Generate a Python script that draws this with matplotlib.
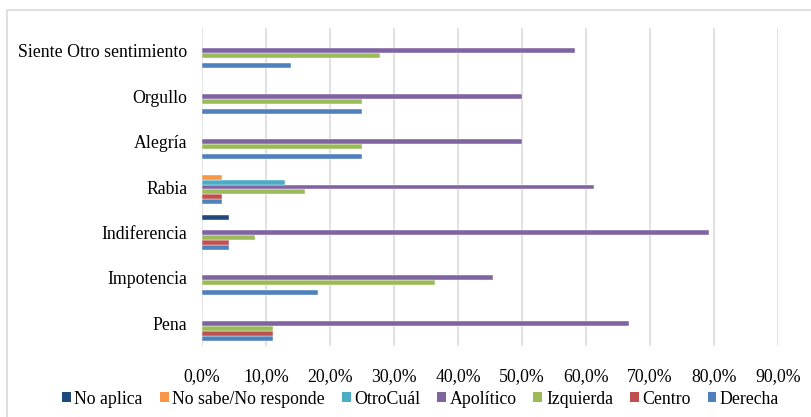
import matplotlib
matplotlib.use("Agg")
import matplotlib.pyplot as plt
from matplotlib.patches import Patch, Rectangle
from matplotlib.ticker import FuncFormatter, MultipleLocator

plt.rcParams['font.family'] = ['Liberation Serif', 'DejaVu Serif']

categories = ["Pena", "Impotencia", "Indiferencia", "Rabia", "Alegría", "Orgullo",
              "Siente Otro sentimiento"]

# Percentages per emotion for each political position (bottom to top in each group)
derecha = [11.1, 18.2, 4.2, 3.2, 25.0, 25.0, 13.9]
centro = [11.1, 0.0, 4.2, 3.2, 0.0, 0.0, 0.0]
izquierda = [11.1, 36.4, 8.3, 16.1, 25.0, 25.0, 27.8]
apolitico = [66.7, 45.5, 79.2, 61.3, 50.0, 50.0, 58.3]
otro_cual = [0.0, 0.0, 0.0, 12.9, 0.0, 0.0, 0.0]
no_sabe = [0.0, 0.0, 0.0, 3.2, 0.0, 0.0, 0.0]
no_aplica = [0.0, 0.0, 4.2, 0.0, 0.0, 0.0, 0.0]

series_names = ["Derecha", "Centro", "Izquierda", "Apolítico", "OtroCuál",
                "No sabe/No responde", "No aplica"]
series_values = [derecha, centro, izquierda, apolitico, otro_cual, no_sabe, no_aplica]
colors = ["#4F81BD", "#C0504D", "#9BBB59", "#8064A2", "#4BACC6", "#F79646", "#1F497D"]

W, H = 812, 417
fig = plt.figure(figsize=(W / 100, H / 100), dpi=100)

# chart frame
fig.patches.append(Rectangle((7 / W, -0.1), 1.2, 1 - 10 / H + 0.1,
                             transform=fig.transFigure, fill=False,
                             edgecolor="#D9D9D9", linewidth=1.2))

left, right, top, bottom = 202, 778, 28, 346
ax = fig.add_axes([left / W, 1 - bottom / H, (right - left) / W, (bottom - top) / H])

bar_h = 0.11
n = len(series_names)
ypos = list(range(len(categories)))
for i, (name, vals, col) in enumerate(zip(series_names, series_values, colors)):
    off = (i - (n - 1) / 2) * bar_h
    ax.barh([y + off for y in ypos], vals, height=bar_h, color=col,
            edgecolor="#FFFFFF", linewidth=0.3, label=name, zorder=3)

ax.set_xlim(0, 90)
ax.set_ylim(-0.5, len(categories) - 0.5)
ax.xaxis.set_major_locator(MultipleLocator(10))
ax.xaxis.set_major_formatter(FuncFormatter(lambda v, p: f"{v:.1f}%".replace(".", ",")))
ax.set_yticks(ypos)
ax.set_yticklabels(categories)
ax.grid(axis="x", color="#D9D9D9", linewidth=1.1, zorder=0)
for s in ax.spines.values():
    s.set_visible(False)
ax.tick_params(axis="both", length=0, labelsize=12.8, colors="#000000")
ax.tick_params(axis="x", pad=16)
ax.tick_params(axis="y", pad=10.5)

handles = [Patch(facecolor=c, label=nm) for nm, c in zip(series_names, colors)][::-1]
fig.legend(handles=handles, loc="center", bbox_to_anchor=(0.518, 1 - 399 / H),
           ncol=7, frameon=False, fontsize=12.8, handlelength=0.5, handleheight=0.5,
           handletextpad=0.2, columnspacing=0.95, borderaxespad=0)

fig.savefig("out.png", dpi=100)
